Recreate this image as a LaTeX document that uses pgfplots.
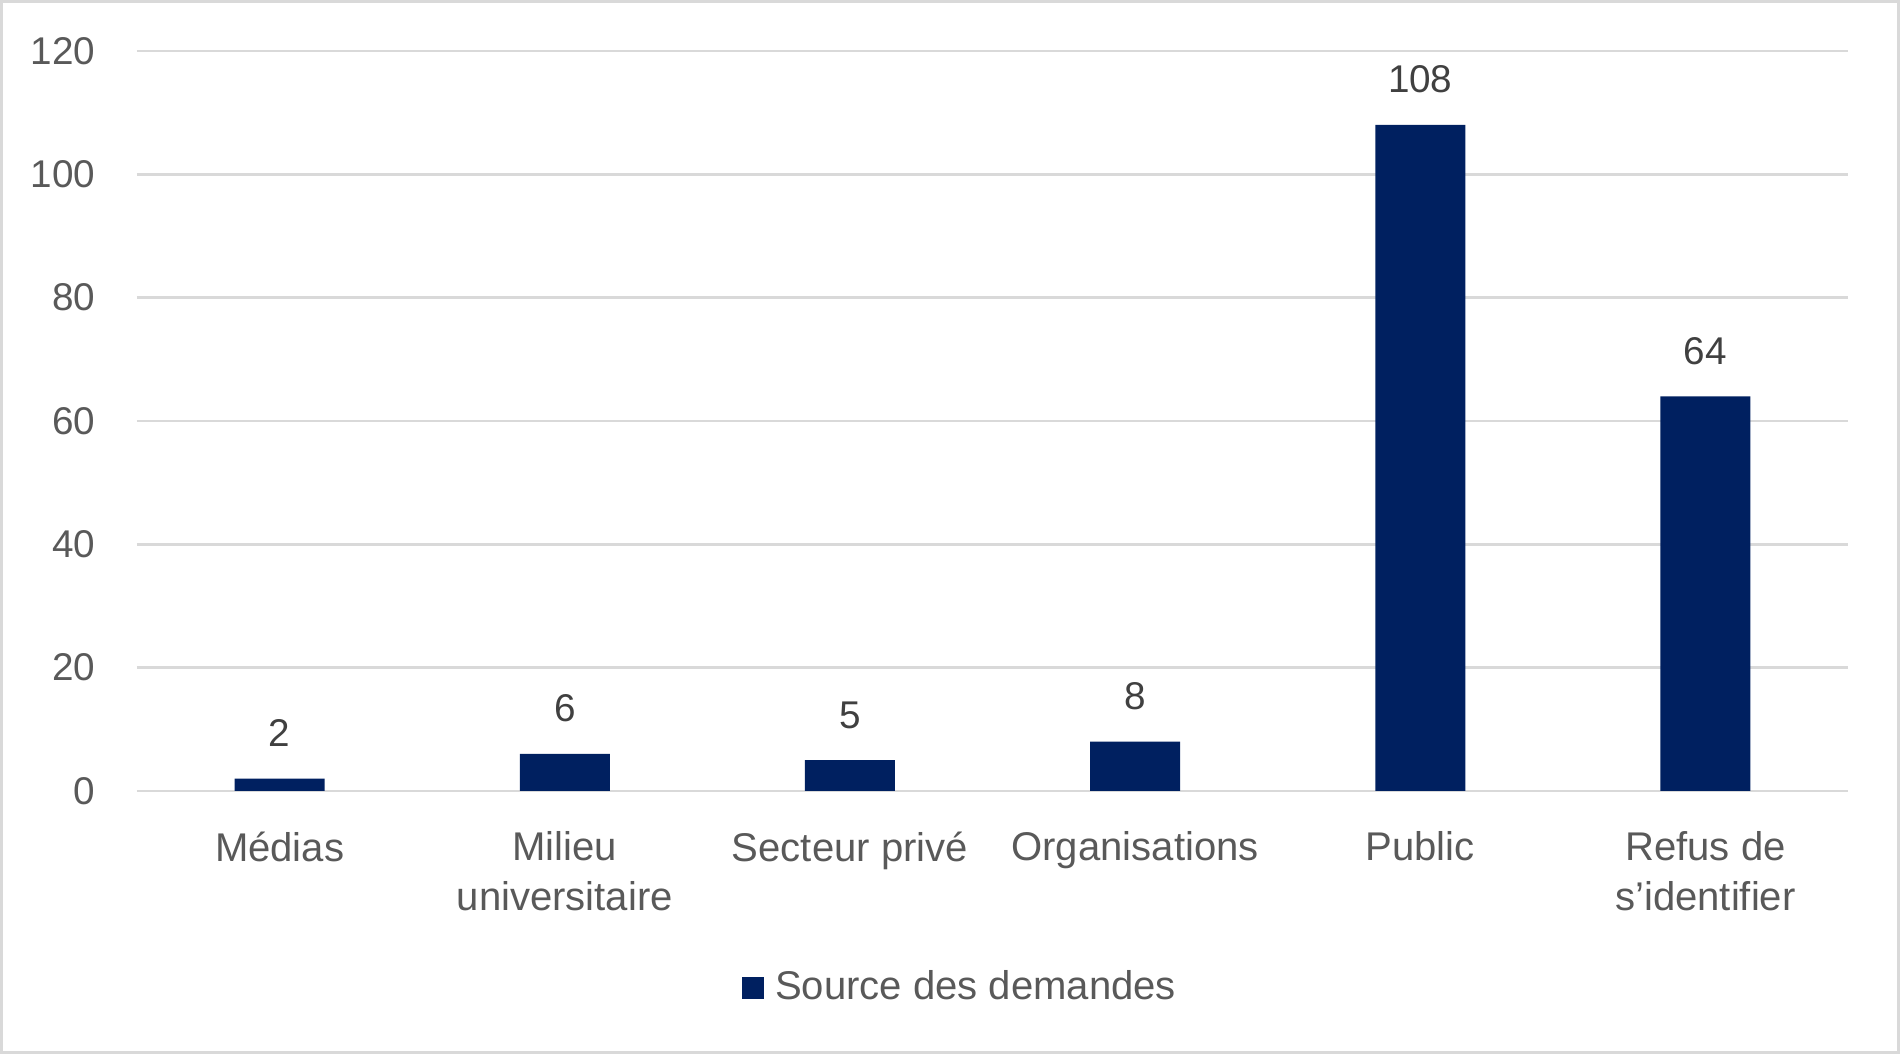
\documentclass[border=0pt]{standalone}
\usepackage{fontspec}
\setmainfont{Liberation Sans}
\usepackage{pgfplots}
\pgfplotsset{compat=1.18}

\definecolor{barblue}{HTML}{002060}
\definecolor{gridgray}{HTML}{D9D9D9}
\definecolor{ticktext}{HTML}{595959}
\definecolor{labeltext}{HTML}{404040}

\begin{document}
\begin{tikzpicture}
    \begin{axis}[
        at={(0,0)}, anchor=south west,
        scale only axis,
        width=17.11cm, height=7.40cm,
        xmin=-0.5, xmax=5.5,
        ymin=0, ymax=120,
        ytick={0,20,...,120},
        xtick=data,
        xticklabels={M\'edias, {Milieu\\universitaire}, Secteur priv\'e, Organisations, Public, {Refus de\\s’identifier}},
        major tick length=0pt,
        axis lines*=left,
        y axis line style={draw=none},
        x axis line style={draw=gridgray, line width=0.75pt},
        ymajorgrids=true,
        grid style={draw=gridgray, line width=0.75pt},
        /pgf/number format/assume math mode=true,
        tick label style={text=ticktext},
        yticklabel style={font=\fontsize{11pt}{13pt}\selectfont, anchor=east, inner sep=0pt, xshift=-0.41cm},
        xticklabel style={font=\fontsize{11.4pt}{14.1pt}\selectfont, anchor=north, inner sep=0pt,
            yshift=-0.40cm, align=center},
        nodes near coords,
        nodes near coords style={font=\fontsize{11pt}{13pt}\selectfont, text=labeltext,
            anchor=south, inner sep=0pt, yshift=0.31cm},
        legend style={at={(0.4805,-0.266)}, anchor=center, draw=none, fill=none,
            inner sep=0pt, column sep=0.11cm,
            font=\fontsize{11.4pt}{13pt}\selectfont,
            nodes={inner sep=0pt, text=ticktext}},
    ]
    \addplot[ybar, bar width=0.9cm, fill=barblue, draw=none,
        legend image code/.code={\fill[barblue] (0cm,-0.11cm) rectangle (0.22cm,0.11cm);}]
        coordinates {(0,2)(1,6)(2,5)(3,8)(4,108)(5,64)};
    \addlegendentry{Source des demandes}
    \end{axis}
    % chart frame
    \draw[gridgray, line width=0.03cm] (-1.355,-2.615) rectangle (17.615,7.895);
\end{tikzpicture}
\end{document}
